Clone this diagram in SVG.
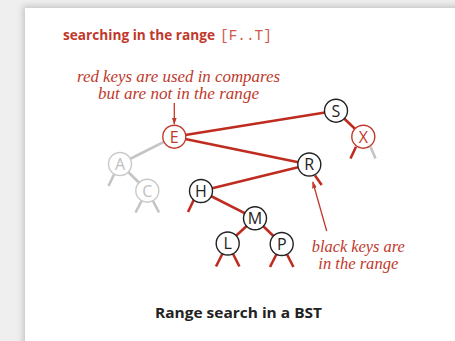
<svg xmlns="http://www.w3.org/2000/svg" width="455" height="341" viewBox="0 0 455 341">
  <defs>
    <filter id="panelShadow" x="-10%" y="-10%" width="120%" height="120%">
      <feGaussianBlur stdDeviation="3"/>
    </filter>
    <marker id="arrowRed" viewBox="0 0 10 10" refX="9" refY="5" markerWidth="7" markerHeight="7" markerUnits="userSpaceOnUse" orient="auto">
      <path d="M0,1.5 L10,5 L0,8.5 Z" fill="#c0392b"/>
    </marker>
  </defs>
  <style>
    .edge { stroke: #bf2c1f; stroke-width: 2.6; fill: none; stroke-linecap: butt; }
    .edge-off { stroke: #c4c4c4; stroke-width: 2.6; fill: none; }
    .node circle { fill: #ffffff; stroke-width: 1.4; }
    .in circle { stroke: #222222; }
    .in text { fill: #222222; }
    .cmp circle { stroke: #c0392b; }
    .cmp text { fill: #c0392b; }
    .off circle { stroke: #c8c8c8; }
    .off text { fill: #c0c0c0; }
    .node text { font-family: "Open Sans", "Liberation Sans", sans-serif; font-size: 16px; text-anchor: middle; }
    .note { font-family: "Liberation Serif", serif; font-style: italic; font-size: 16px; fill: #c0392b; text-anchor: middle; }
    .pointer { stroke: #c0392b; stroke-width: 1.3; fill: none; }
  </style>

  <!-- page background and white panel -->
  <rect x="0" y="0" width="455" height="341" fill="#efefef"/>
  <rect x="23" y="6" width="450" height="360" fill="#9a9a9a" opacity="0.5" filter="url(#panelShadow)"/>
  <rect x="25" y="8" width="440" height="345" fill="#ffffff"/>

  <!-- heading -->
  <text x="63" y="39.5" font-family="Open Sans, Liberation Sans, sans-serif" font-weight="bold" font-size="13.5" fill="#c0392b" textLength="152" lengthAdjust="spacingAndGlyphs">searching in the range</text>
  <text x="220" y="40" font-family="Liberation Mono, DejaVu Sans Mono, monospace" font-size="14.4" fill="#d0584a">[F..T]</text>

  <!-- connectors -->
  <g id="connectors">
    <line class="edge" x1="174.3" y1="136.7" x2="336" y2="110.7"/>
    <line class="edge" x1="336" y1="110.7" x2="363.3" y2="136.7"/>
    <line class="edge" x1="174.3" y1="136.7" x2="309.3" y2="164.5"/>
    <line class="edge-off" x1="174.3" y1="136.7" x2="120" y2="164"/>
    <line class="edge-off" x1="120" y1="164" x2="147.3" y2="190.7"/>
    <line class="edge" x1="309.3" y1="164.5" x2="201" y2="191"/>
    <line class="edge" x1="201" y1="191" x2="255" y2="218.3"/>
    <line class="edge" x1="255" y1="218.3" x2="227.7" y2="243.5"/>
    <line class="edge" x1="255" y1="218.3" x2="281.7" y2="244"/>

    <!-- null links -->
    <line class="edge" x1="356" y1="146.7" x2="350.5" y2="158.5"/>
    <line class="edge-off" x1="370.5" y1="146.7" x2="375.5" y2="158.5"/>
    <line class="edge-off" x1="114" y1="174.5" x2="108.5" y2="186"/>
    <line class="edge-off" x1="141.5" y1="201" x2="135.5" y2="212.5"/>
    <line class="edge-off" x1="153" y1="201" x2="159" y2="212.5"/>
    <line class="edge" x1="315" y1="175.5" x2="321.7" y2="185"/>
    <line class="edge" x1="194" y1="199.5" x2="188" y2="212"/>
    <line class="edge" x1="222.3" y1="254" x2="216" y2="266.5"/>
    <line class="edge" x1="233.1" y1="254" x2="239.4" y2="266.5"/>
    <line class="edge" x1="276.3" y1="254.5" x2="270" y2="267"/>
    <line class="edge" x1="287.1" y1="254.5" x2="293.4" y2="267"/>

    <!-- annotation pointers -->
    <line class="pointer" x1="174.3" y1="103" x2="174.3" y2="124" marker-end="url(#arrowRed)"/>
    <line class="pointer" x1="326.7" y1="231" x2="312.8" y2="182" marker-end="url(#arrowRed)"/>
  </g>

  <!-- nodes -->
  <g id="node-S" class="node in"><circle cx="336" cy="110.7" r="11.5"/><text x="336" y="116.5">S</text></g>
  <g id="node-E" class="node cmp"><circle cx="174.3" cy="136.7" r="11.5"/><text x="174.3" y="142.5">E</text></g>
  <g id="node-X" class="node cmp"><circle cx="363.3" cy="136.7" r="11.5"/><text x="363.3" y="142.5">X</text></g>
  <g id="node-A" class="node off"><circle cx="120" cy="164" r="11.5"/><text x="120" y="169.8">A</text></g>
  <g id="node-R" class="node in"><circle cx="309.3" cy="164.5" r="11.5"/><text x="309.3" y="170.3">R</text></g>
  <g id="node-C" class="node off"><circle cx="147.3" cy="190.7" r="11.5"/><text x="147.3" y="196.5">C</text></g>
  <g id="node-H" class="node in"><circle cx="201" cy="191" r="11.5"/><text x="201" y="196.8">H</text></g>
  <g id="node-M" class="node in"><circle cx="255" cy="218.3" r="11.5"/><text x="255" y="224.1">M</text></g>
  <g id="node-L" class="node in"><circle cx="227.7" cy="243.5" r="11.5"/><text x="227.7" y="249.3">L</text></g>
  <g id="node-P" class="node in"><circle cx="281.7" cy="244" r="11.5"/><text x="281.7" y="249.8">P</text></g>

  <!-- notes -->
  <text class="note" x="178.5" y="81.5" textLength="203" lengthAdjust="spacingAndGlyphs">red keys are used in compares</text>
  <text class="note" x="178.5" y="99" textLength="161" lengthAdjust="spacingAndGlyphs">but are not in the range</text>
  <text class="note" x="358.3" y="251.5" textLength="93" lengthAdjust="spacingAndGlyphs">black keys are</text>
  <text class="note" x="358.3" y="269" textLength="80" lengthAdjust="spacingAndGlyphs">in the range</text>

  <!-- caption -->
  <text x="238.5" y="317.5" text-anchor="middle" font-family="Open Sans, Liberation Sans, sans-serif" font-weight="bold" font-size="14" fill="#222222" textLength="167" lengthAdjust="spacingAndGlyphs">Range search in a BST</text>
</svg>
